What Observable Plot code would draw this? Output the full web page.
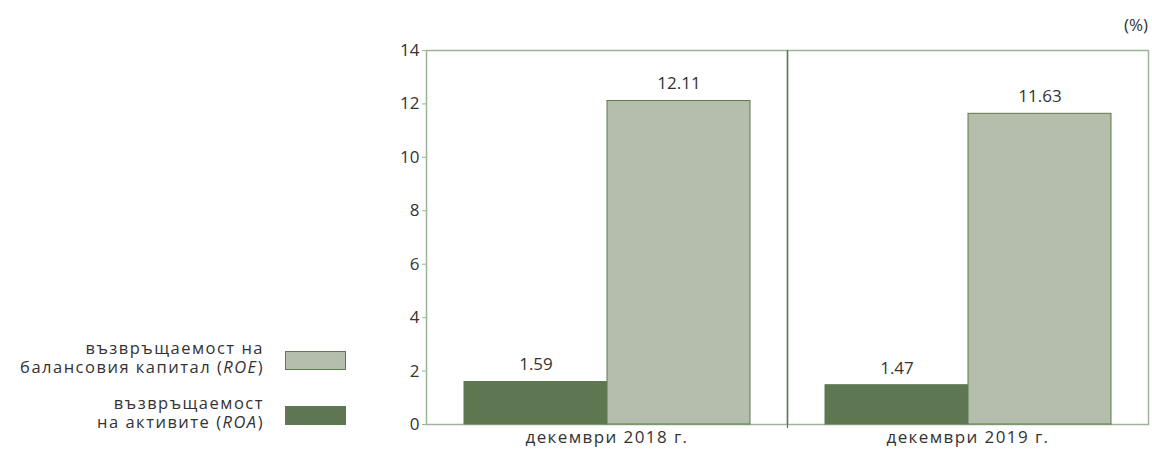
<!DOCTYPE html>
<html>
<head>
<meta charset="utf-8">
<script src="https://cdn.jsdelivr.net/npm/d3@7"></script>
<script src="https://cdn.jsdelivr.net/npm/@observablehq/plot@0.6"></script>
<style>
  html, body { margin: 0; padding: 0; background: #fff; }
  #wrap { position: relative; width: 1152px; height: 459px; font-family: "Open Sans", sans-serif; color: #333; }
  #chart { position: absolute; left: 0; top: 0; }
  #chart g[aria-label="fx-axis tick label"] text { letter-spacing: 1.4px; }
  .unit { position: absolute; right: 4px; top: 13px; font-size: 17px; color: #333; }
  .lrow { position: absolute; left: 0; width: 350px; height: 37px; }
  .ltext { position: absolute; left: 0; width: 264px; text-align: right; font-size: 16.5px; line-height: 18.5px; letter-spacing: 1.5px; color: #333; white-space: nowrap; }
  .lsw { position: absolute; left: 285px; top: 12px; width: 59px; height: 17px; border: 1px solid #5a7a4f; }
</style>
</head>
<body>
<div id="wrap">
  <div id="chart"></div>
  <div class="unit">(%)</div>
  <div id="legend"></div>
</div>
<script>
// ---- data ----
const years = ["2018", "2019"];
const yearLabels = ["декември 2018 г.", "декември 2019 г."];
const series = ["ROA", "ROE"];
const roaValues = [1.59, 1.47];
const roeValues = [12.11, 11.63];
const yTicks = [0, 2, 4, 6, 8, 10, 12, 14];
const legendLabels = {
  ROE: ["възвръщаемост на", "балансовия капитал (<i>ROE</i>)"],
  ROA: ["възвръщаемост", "на активите (<i>ROA</i>)"]
};

// ---- styles ----
const dark = "#5e7752";
const light = "#b5bdad";
const barStroke = "#5a7a4f";
const axisLight = "#9cb598";

const data = [];
years.forEach((y, i) => {
  data.push({year: y, series: "ROA", value: roaValues[i]});
  data.push({year: y, series: "ROE", value: roeValues[i]});
});

const chart = Plot.plot({
  width: 1152,
  height: 459,
  marginLeft: 425,
  marginRight: 4,
  marginTop: 50,
  marginBottom: 35,
  style: {fontFamily: "'Open Sans', sans-serif", fontSize: "17px", color: "#333", background: "#fff"},
  fx: {domain: years, padding: 0, label: null, axis: null},
  x: {domain: series, paddingInner: 0, paddingOuter: 0.257, axis: null},
  y: {domain: [0, 14], axis: null},
  color: {domain: series, range: [dark, light]},
  marks: [
    Plot.frame({stroke: axisLight, strokeWidth: 1.5}),
    Plot.frame({anchor: "left", stroke: barStroke, strokeWidth: 1.2, fx: () => "2019", insetBottom: -3}),
    Plot.axisY({ticks: yTicks, tickSize: 4, tickPadding: 3, stroke: axisLight, fill: "#333", label: null, fontSize: 17}),
    Plot.axisFx({anchor: "bottom", tickSize: 0, tickPadding: 6, label: null, fontSize: 17, fill: "#333",
      tickFormat: d => yearLabels[years.indexOf(d)]}),
    Plot.barY(data, {fx: "year", x: "series", y: "value", fill: "series", stroke: barStroke, strokeWidth: 1}),
    Plot.text(data, {fx: "year", x: "series", y: "value", text: d => d.value.toFixed(2), dy: -17, fontSize: 17, fill: "#333"})
  ]
});
document.getElementById("chart").appendChild(chart);

// ---- legend ----
const legend = document.getElementById("legend");
const rows = [
  {key: "ROE", top: 339, color: light},
  {key: "ROA", top: 394, color: dark}
];
rows.forEach(r => {
  const row = document.createElement("div");
  row.className = "lrow";
  row.style.top = r.top + "px";
  const t = document.createElement("div");
  t.className = "ltext";
  t.innerHTML = legendLabels[r.key].join("<br>");
  const sw = document.createElement("div");
  sw.className = "lsw";
  sw.style.background = r.color;
  row.appendChild(t);
  row.appendChild(sw);
  legend.appendChild(row);
});
</script>
</body>
</html>
